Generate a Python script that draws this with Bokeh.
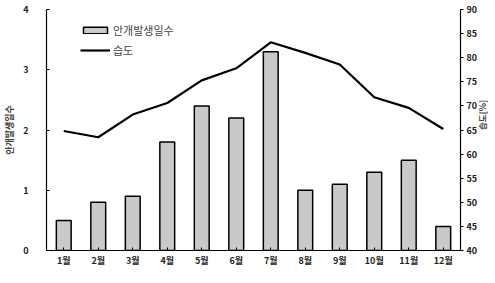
from bokeh.plotting import figure
from bokeh.models import Range1d, LinearAxis, Legend, LegendItem, FixedTicker
from bokeh.embed import file_html
from bokeh.resources import INLINE

months = ["1월", "2월", "3월", "4월", "5월", "6월", "7월", "8월", "9월", "10월", "11월", "12월"]
fog_days = [0.5, 0.8, 0.9, 1.8, 2.4, 2.2, 3.3, 1.0, 1.1, 1.3, 1.5, 0.4]
humidity = [64.8, 63.5, 68.2, 70.6, 75.3, 77.8, 83.2, 81.0, 78.6, 71.8, 69.6, 65.2]
left_ticks = [0, 1, 2, 3, 4]
right_ticks = [40, 45, 50, 55, 60, 65, 70, 75, 80, 85, 90]

KFONT = "Noto Sans CJK KR"

p = figure(x_range=months, y_range=Range1d(0, 4), frame_width=414, frame_height=241,
           output_backend="svg", toolbar_location=None,
           min_border_left=0, min_border_right=0, min_border_top=9, min_border_bottom=0)
p.extra_y_ranges = {"hum": Range1d(40, 90)}
p.x_range.range_padding = 0.0

bars = p.vbar(x=months, top=fog_days, width=0.43, fill_color="#c9c9c9",
              line_color="black", line_width=1.5)
line = p.line(x=months, y=humidity, y_range_name="hum", line_color="black", line_width=2.2)

p.grid.visible = False
p.outline_line_color = None

for ax in [p.xaxis[0], p.yaxis[0]]:
    ax.axis_line_color = "black"
    ax.axis_line_width = 1.2
    ax.major_tick_line_color = "black"
    ax.minor_tick_line_color = None
    ax.major_label_text_font = KFONT
    ax.major_label_text_font_size = "9px"
    ax.major_label_text_font_style = "bold"
    ax.major_label_text_color = "#222222"
    ax.major_label_text_line_height = 1.0

p.xaxis.major_tick_in = 3
p.xaxis.major_tick_out = 0
p.xaxis.major_label_standoff = 3

p.yaxis[0].ticker = FixedTicker(ticks=left_ticks)
p.yaxis[0].major_tick_in = 3
p.yaxis[0].major_tick_out = 0
p.yaxis[0].major_label_standoff = 18
p.yaxis[0].axis_label = "안개발생일수"
p.yaxis[0].axis_label_text_font = KFONT
p.yaxis[0].axis_label_text_font_size = "9px"
p.yaxis[0].axis_label_text_font_style = "bold"
p.yaxis[0].axis_label_standoff = 4

ry = LinearAxis(y_range_name="hum", ticker=FixedTicker(ticks=right_ticks))
ry.axis_line_color = "black"
ry.axis_line_width = 1.2
ry.major_tick_in = 0
ry.major_tick_out = 3
ry.minor_tick_line_color = None
ry.major_label_text_font = KFONT
ry.major_label_text_font_size = "9px"
ry.major_label_text_font_style = "bold"
ry.major_label_text_color = "#222222"
ry.major_label_text_line_height = 1.0
ry.major_label_standoff = 3
ry.axis_label = "습도[%]"
ry.axis_label_text_font = KFONT
ry.axis_label_text_font_size = "8.5px"
ry.axis_label_text_font_style = "bold"
ry.axis_label_standoff = 2
ry.axis_label_orientation = 1.5708
p.add_layout(ry, "right")

legend = Legend(items=[LegendItem(label="안개발생일수", renderers=[bars]),
                       LegendItem(label="습도", renderers=[line])],
                location=(34, 192))
legend.border_line_color = None
legend.background_fill_alpha = 0
legend.label_text_font = KFONT
legend.label_text_font_size = "11px"
legend.glyph_width = 30
legend.glyph_height = 8
legend.label_height = 14
legend.spacing = 4
legend.padding = 4
legend.margin = 0
legend.label_standoff = 3
p.add_layout(legend)

open("out.html", "w").write(file_html(p, INLINE))
